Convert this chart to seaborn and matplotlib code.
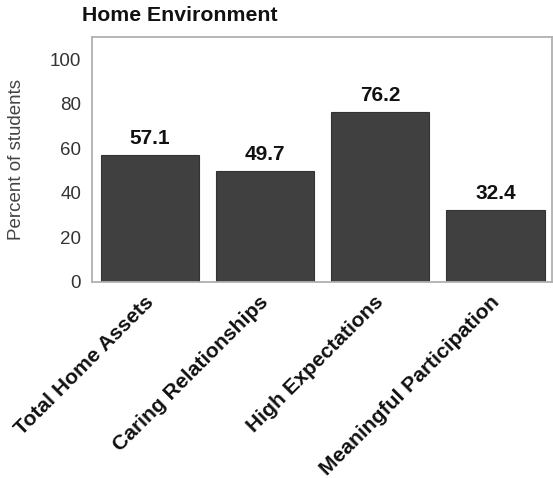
import matplotlib
matplotlib.use("Agg")
import matplotlib.pyplot as plt
import matplotlib.transforms as mtransforms
import seaborn as sns
import pandas as pd

categories = ["Total Home Assets", "Caring Relationships", "High Expectations", "Meaningful Participation"]
values = [57.1, 49.7, 76.2, 32.4]
yticks = [0, 20, 40, 60, 80, 100]
title = "Home Environment"
ylabel = "Percent of students"

sns.set_theme(style="white")
plt.rcParams['font.family'] = ['Liberation Sans', 'DejaVu Sans']

df = pd.DataFrame({"category": categories, "value": values})

fig = plt.figure(figsize=(5.53, 4.78), dpi=100)
ax = fig.add_axes([0.167, 0.411, 0.8307, 0.5116])

sns.barplot(data=df, x="category", y="value", color="#404040", width=0.855,
            edgecolor="#333333", linewidth=0.8, saturation=1, ax=ax)

ax.set_xlim(-0.5, 3.49)
ax.set_ylim(0, 110)
ax.set_yticks(yticks)
ax.set_yticklabels([str(t) for t in yticks], fontsize=13.5, color="#333333")
ax.tick_params(axis='y', length=0, pad=8)
ax.tick_params(axis='x', length=0, pad=8)
ax.set_xticks(range(len(categories)))
ax.set_xticklabels(categories, rotation=45, ha='right', rotation_mode='anchor',
                   fontsize=15.2, fontweight='bold', color="#111111")
offset = mtransforms.ScaledTranslation(-6 / 100, 0, fig.dpi_scale_trans)
for lbl in ax.get_xticklabels():
    lbl.set_transform(lbl.get_transform() + offset)
ax.set_xlabel("")
ax.set_ylabel(ylabel, fontsize=13.5, color="#444444")
ax.yaxis.set_label_coords(-0.147, 0.5)

for s in ax.spines.values():
    s.set_color("#b0b0b0")
    s.set_linewidth(1.3)

for c in ax.containers:
    ax.bar_label(c, labels=[f"{v:.1f}" for v in values], padding=5,
                 fontsize=15, fontweight='bold', color="#111111")

fig.text(0.148, 0.968, title, fontsize=15.3, fontweight='bold', ha='left', va='center', color="#111111")

fig.savefig("out.png", dpi=100)
